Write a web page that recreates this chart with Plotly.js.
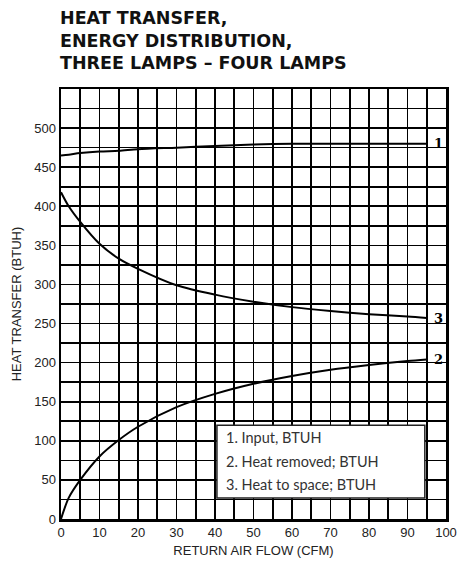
<!DOCTYPE html>
<html>
<head>
<meta charset="utf-8">
<script src="https://cdn.plot.ly/plotly-3.0.1.min.js"></script>
<style>
  html, body { margin: 0; padding: 0; background: #fff; }
  #chart { width: 457px; height: 563px; }
</style>
</head>
<body>
<div id="chart"></div>
<script>
// Return air flow (CFM) sample points
const airFlow = [0, 2, 5, 10, 15, 20, 30, 40, 50, 60, 70, 80, 90, 95];

// 1. Input, BTUH
const inputBtuh = [465, 466, 468, 470, 471, 473, 475, 477, 479, 480, 480, 480, 480, 480];
// 2. Heat removed, BTUH
const heatRemoved = [0, 27, 50, 80, 101, 118, 143, 160, 173, 183, 191, 197, 202, 204];
// 3. Heat to space, BTUH
const heatToSpace = [418, 400, 380, 352, 333, 320, 299, 287, 278, 271, 266, 262, 259, 257];

const curveNames = ['1. Input, BTUH', '2. Heat removed; BTUH', '3. Heat to space; BTUH'];
const curveTags = ['1', '2', '3'];
const titleLines = ['HEAT TRANSFER,', 'ENERGY DISTRIBUTION,', 'THREE LAMPS – FOUR LAMPS'];

const xTicks = [0, 10, 20, 30, 40, 50, 60, 70, 80, 90, 100];
const yTicks = [0, 50, 100, 150, 200, 250, 300, 350, 400, 450, 500];

const series = [inputBtuh, heatRemoved, heatToSpace];

const traces = series.map((ys, i) => ({
  x: airFlow,
  y: ys,
  name: curveNames[i],
  type: 'scatter',
  mode: 'lines',
  line: { color: '#000', width: 2, shape: 'spline', smoothing: 0.8 },
  hoverinfo: 'skip'
}));

// Curve number tags at the right-hand end of each line
const tagAnnotations = series.map((ys, i) => ({
  x: 98, y: ys[ys.length - 1],
  xref: 'x', yref: 'y',
  text: curveTags[i],
  showarrow: false,
  font: { family: 'DejaVu Serif', size: 13, color: '#000', weight: 'bold' }
}));

// Key box text lines
const keyAnnotations = curveNames.map((t, i) => ({
  x: 42.3, y: 104 - i * 30,
  xref: 'x', yref: 'y',
  xanchor: 'left', yanchor: 'middle',
  text: t,
  showarrow: false,
  font: { family: 'Lato', size: 14.5, color: '#333' }
}));

// Heading, one annotation per line so the line spacing can be set
const titleAnnotations = titleLines.map((t, i) => ({
  xref: 'paper', yref: 'paper',
  x: 0, y: 1.165 - i * 0.0525, xanchor: 'left', yanchor: 'middle',
  xshift: -3,
  text: t,
  showarrow: false,
  font: { family: 'DejaVu Sans', size: 17.5, color: '#111', weight: 'bold' }
}));

const axisCommon = {
  showline: true, mirror: true, linecolor: '#000', linewidth: 2.5,
  showgrid: true, gridcolor: '#000', gridwidth: 1.6,
  zeroline: false,
  ticks: '',
  tickfont: { family: 'Liberation Sans', size: 13, color: '#222' },
  fixedrange: true
};

const layout = {
  width: 457, height: 563,
  margin: { l: 61, r: 11, t: 89, b: 44 },
  paper_bgcolor: '#fff', plot_bgcolor: '#fff',
  showlegend: false,
  xaxis: Object.assign({}, axisCommon, {
    range: [0, 100],
    tickmode: 'array', tickvals: xTicks,
    minor: { dtick: 5, showgrid: true, gridcolor: '#000', gridwidth: 1.6 },
    title: { text: 'RETURN AIR FLOW (CFM)', standoff: 7,
             font: { family: 'Liberation Sans', size: 13, color: '#222' } }
  }),
  yaxis: Object.assign({}, axisCommon, {
    range: [0, 550],
    tickmode: 'array', tickvals: yTicks,
    minor: { dtick: 25, showgrid: true, gridcolor: '#000', gridwidth: 1.6 },
    title: { text: 'HEAT TRANSFER (BTUH)', standoff: 10,
             font: { family: 'Liberation Sans', size: 13, color: '#222' } }
  }),
  shapes: [{
    type: 'rect', xref: 'x', yref: 'y',
    x0: 40.5, x1: 94.5, y0: 27, y1: 120,
    fillcolor: '#fff', line: { color: '#222', width: 1.5 },
    layer: 'above'
  }],
  annotations: titleAnnotations.concat(tagAnnotations, keyAnnotations)
};

Plotly.newPlot('chart', traces, layout, { staticPlot: true, displayModeBar: false });
</script>
</body>
</html>
